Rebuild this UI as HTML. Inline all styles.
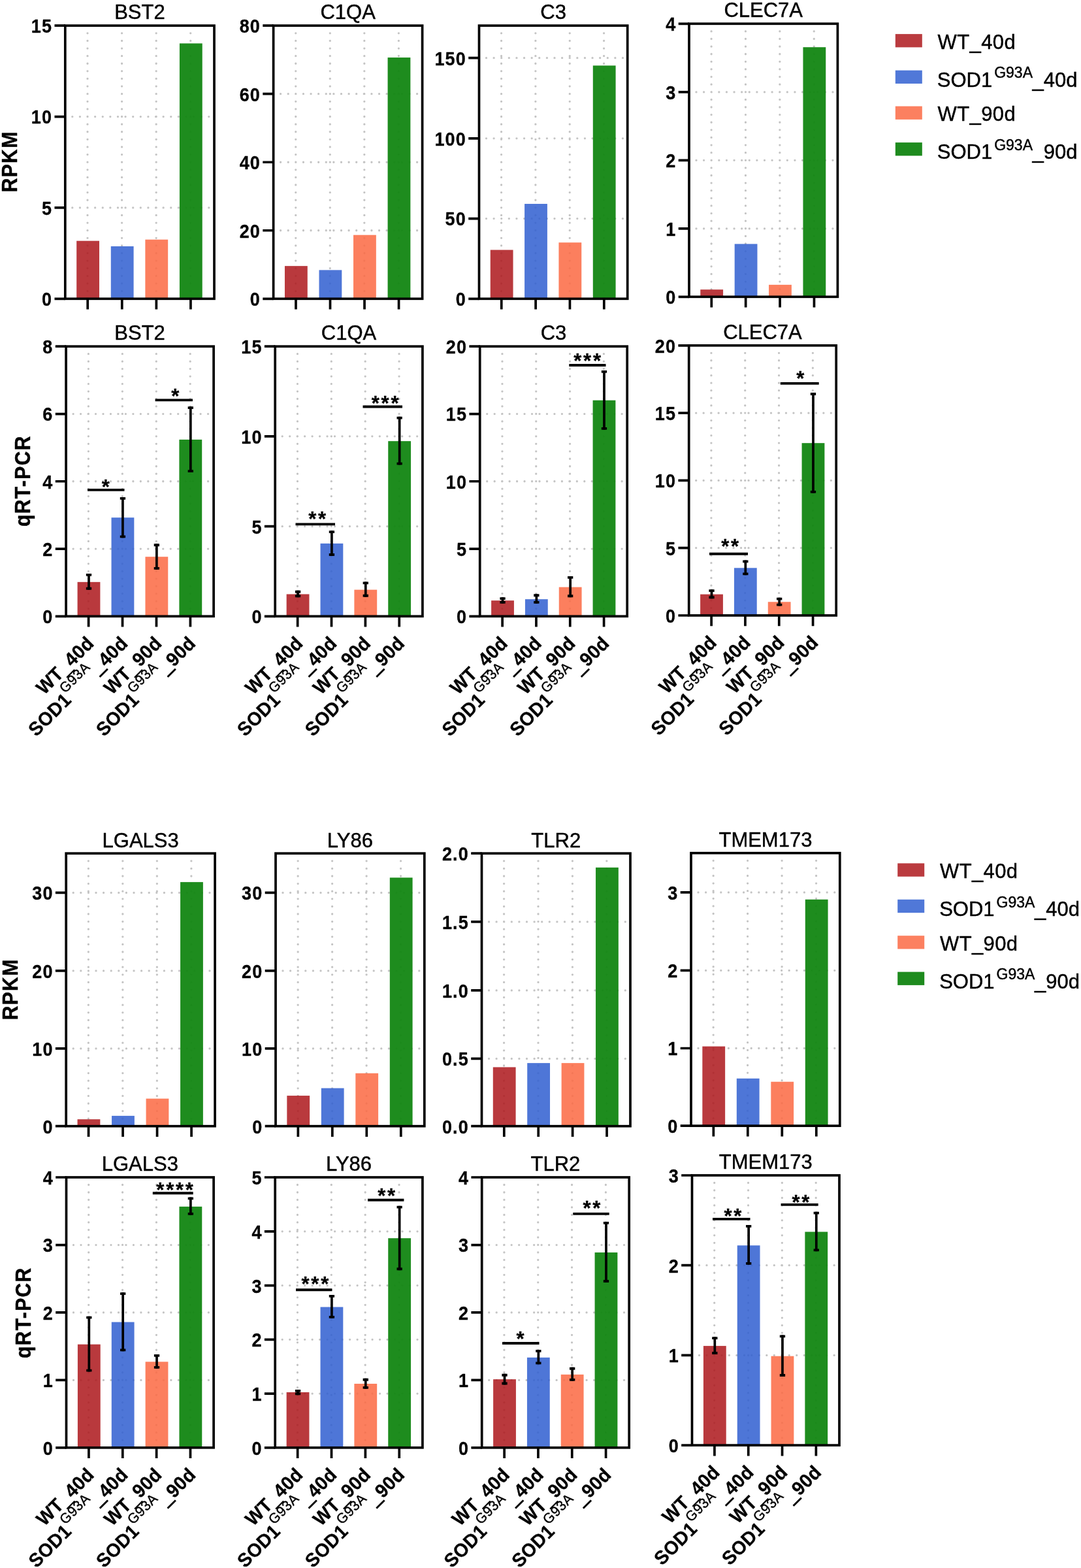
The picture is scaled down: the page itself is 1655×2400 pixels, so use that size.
<!DOCTYPE html>
<html lang="en"><head><meta charset="utf-8"><title>RPKM and qRT-PCR expression bar charts</title>
<style>
html,body{margin:0;padding:0;background:#fff}
body{width:1655px;height:2400px;overflow:hidden}
svg{display:block;font-family:"Liberation Sans",Arial,Helvetica,sans-serif}
text{fill:#000;stroke:#000;stroke-width:0.45px;stroke-linejoin:round}
.gd{fill:none;stroke:#c4c4c4;stroke-width:3.3;stroke-linecap:round}
.tk{font-weight:bold;font-size:27px;text-anchor:end;letter-spacing:1.1px;stroke-width:0.3px}
.tt{font-size:31px;text-anchor:middle}
.st{font-weight:bold;font-size:31px;text-anchor:middle;letter-spacing:2.8px;stroke-width:0.3px}
.xl{font-weight:bold;font-size:28.2px;text-anchor:end;stroke-width:0.3px;letter-spacing:0.4px}
.sp{font-weight:normal;font-size:20.8px;letter-spacing:0.6px;stroke-width:0.4px}
.us{font-weight:normal;stroke:#000;stroke-width:1px}
.ub{stroke:#000;stroke-width:1px}
.lu{stroke:#000;stroke-width:1.2px}
.lg{font-size:31px}
.lsp{font-size:23px}
.lw{letter-spacing:0.4px}
.yl{font-weight:bold;font-size:30px;text-anchor:middle;letter-spacing:1.4px}
</style></head>
<body>
<svg role="img" aria-label="Bar charts of RPKM and qRT-PCR expression for BST2, C1QA, C3, CLEC7A, LGALS3, LY86, TLR2 and TMEM173" width="1655" height="2400" viewBox="0 0 1655 2400">
<rect width="1655" height="2400" fill="#fff"/>
<g>
<path class="gd" stroke-dasharray="0 11.61" d="M134 50.81V445.99M186.58 50.81V445.99M239.16 50.81V445.99M291.73 50.81V445.99M110.8 317.93H320.15M110.8 178.57H320.15"/>
<rect x="117.2" y="368.69" width="34.8" height="88.61" fill="#AE181D" fill-opacity="0.86"/>
<rect x="169.78" y="377" width="34.8" height="80.3" fill="#3160D1" fill-opacity="0.86"/>
<rect x="222.36" y="366.69" width="34.8" height="90.61" fill="#FB6A44" fill-opacity="0.86"/>
<rect x="274.93" y="66.43" width="34.8" height="390.87" fill="#128612" fill-opacity="0.95"/>
<rect x="99.8" y="39.2" width="228.2" height="418.1" fill="none" stroke="#000" stroke-width="3.7"/>
<path d="M83.5 457.3H99.8M83.5 317.93H99.8M83.5 178.57H99.8M83.5 39.2H99.8M134.2 457.3V473.6M186.78 457.3V473.6M239.36 457.3V473.6M291.93 457.3V473.6" stroke="#000" stroke-width="3.7" fill="none"/>
<text class="tk" transform="translate(80.1 468.2) scale(1 1.09)">0</text>
<text class="tk" transform="translate(80.1 328.83) scale(1 1.09)">5</text>
<text class="tk" transform="translate(80.1 189.47) scale(1 1.09)">10</text>
<text class="tk" transform="translate(80.1 50.1) scale(1 1.09)">15</text>
<text class="tt" transform="translate(213.9 29.3) scale(1 1.04)">BST2</text>
</g>
<g>
<path class="gd" stroke-dasharray="0 11.61" d="M452.77 50.81V445.99M505.3 50.81V445.99M557.83 50.81V445.99M610.36 50.81V445.99M429.6 352.77H638.95M429.6 248.25H638.95M429.6 143.72H638.95"/>
<rect x="435.97" y="407.14" width="34.8" height="50.16" fill="#AE181D" fill-opacity="0.86"/>
<rect x="488.5" y="413.35" width="34.8" height="43.95" fill="#3160D1" fill-opacity="0.86"/>
<rect x="541.03" y="359.68" width="34.8" height="97.62" fill="#FB6A44" fill-opacity="0.86"/>
<rect x="593.56" y="88.06" width="34.8" height="369.24" fill="#128612" fill-opacity="0.95"/>
<rect x="418.6" y="39.2" width="228" height="418.1" fill="none" stroke="#000" stroke-width="3.7"/>
<path d="M402.3 457.3H418.6M402.3 352.77H418.6M402.3 248.25H418.6M402.3 143.72H418.6M402.3 39.2H418.6M452.97 457.3V473.6M505.5 457.3V473.6M558.03 457.3V473.6M610.56 457.3V473.6" stroke="#000" stroke-width="3.7" fill="none"/>
<text class="tk" transform="translate(398.9 468.2) scale(1 1.09)">0</text>
<text class="tk" transform="translate(398.9 363.67) scale(1 1.09)">20</text>
<text class="tk" transform="translate(398.9 259.15) scale(1 1.09)">40</text>
<text class="tk" transform="translate(398.9 154.62) scale(1 1.09)">60</text>
<text class="tk" transform="translate(398.9 50.1) scale(1 1.09)">80</text>
<text class="tt" transform="translate(532.6 29.3) scale(1 1.04)">C1QA</text>
</g>
<g>
<path class="gd" stroke-dasharray="0 11.61" d="M767.55 50.81V445.99M819.89 50.81V445.99M872.24 50.81V445.99M924.59 50.81V445.99M744.5 334.55H953.85M744.5 211.81H953.85M744.5 88.66H953.85"/>
<rect x="750.75" y="382.51" width="34.8" height="74.79" fill="#AE181D" fill-opacity="0.86"/>
<rect x="803.09" y="312.03" width="34.8" height="145.27" fill="#3160D1" fill-opacity="0.86"/>
<rect x="855.44" y="371.2" width="34.8" height="86.1" fill="#FB6A44" fill-opacity="0.86"/>
<rect x="907.79" y="100.37" width="34.8" height="356.93" fill="#128612" fill-opacity="0.95"/>
<rect x="733.5" y="39.2" width="227.2" height="418.1" fill="none" stroke="#000" stroke-width="3.7"/>
<path d="M717.2 457.3H733.5M717.2 334.55H733.5M717.2 211.81H733.5M717.2 88.66H733.5M767.75 457.3V473.6M820.09 457.3V473.6M872.44 457.3V473.6M924.79 457.3V473.6" stroke="#000" stroke-width="3.7" fill="none"/>
<text class="tk" transform="translate(713.8 468.2) scale(1 1.09)">0</text>
<text class="tk" transform="translate(713.8 345.45) scale(1 1.09)">50</text>
<text class="tk" transform="translate(713.8 222.71) scale(1 1.09)">100</text>
<text class="tk" transform="translate(713.8 99.56) scale(1 1.09)">150</text>
<text class="tt" transform="translate(847.1 29.3) scale(1 1.04)">C3</text>
</g>
<g>
<path class="gd" stroke-dasharray="0 11.61" d="M1089.08 47.91V442.99M1141.47 47.91V442.99M1193.86 47.91V442.99M1246.26 47.91V442.99M1066 349.88H1275.3M1066 245.35H1275.3M1066 140.93H1275.3"/>
<rect x="1072.28" y="443.19" width="34.8" height="11.11" fill="#AE181D" fill-opacity="0.86"/>
<rect x="1124.67" y="373.4" width="34.8" height="80.9" fill="#3160D1" fill-opacity="0.86"/>
<rect x="1177.06" y="435.88" width="34.8" height="18.42" fill="#FB6A44" fill-opacity="0.86"/>
<rect x="1229.46" y="72.24" width="34.8" height="382.06" fill="#128612" fill-opacity="0.95"/>
<rect x="1055" y="36.3" width="227.4" height="418" fill="none" stroke="#000" stroke-width="3.7"/>
<path d="M1038.7 454.3H1055M1038.7 349.88H1055M1038.7 245.35H1055M1038.7 140.93H1055M1038.7 36.3H1055M1089.28 454.3V470.6M1141.67 454.3V470.6M1194.06 454.3V470.6M1246.46 454.3V470.6" stroke="#000" stroke-width="3.7" fill="none"/>
<text class="tk" transform="translate(1035.3 465.2) scale(1 1.09)">0</text>
<text class="tk" transform="translate(1035.3 360.78) scale(1 1.09)">1</text>
<text class="tk" transform="translate(1035.3 256.25) scale(1 1.09)">2</text>
<text class="tk" transform="translate(1035.3 151.83) scale(1 1.09)">3</text>
<text class="tk" transform="translate(1035.3 47.2) scale(1 1.09)">4</text>
<text class="tt" transform="translate(1168.7 25.8) scale(1 1.04)">CLEC7A</text>
</g>
<g>
<path class="gd" stroke-dasharray="0 11.47" d="M135.39 541.68V932.12M187.33 541.68V932.12M239.26 541.68V932.12M291.2 541.68V932.12M112.1 840.08H318.95M112.1 736.75H318.95M112.1 633.53H318.95"/>
<rect x="118.59" y="890.84" width="34.8" height="52.46" fill="#AE181D" fill-opacity="0.86"/>
<rect x="170.53" y="792.22" width="34.8" height="151.08" fill="#3160D1" fill-opacity="0.86"/>
<rect x="222.46" y="852.19" width="34.8" height="91.11" fill="#FB6A44" fill-opacity="0.86"/>
<rect x="274.4" y="672.87" width="34.8" height="270.43" fill="#128612" fill-opacity="0.95"/>
<path d="M135.99 878.02V902.65M187.93 760.88V823.35M239.86 832.37V871.71M291.8 622.21V722.93" stroke="#000" stroke-width="3.7" fill="none"/>
<path d="M131.84 879.92H140.14M131.84 900.75H140.14M183.78 762.78H192.08M183.78 821.45H192.08M235.71 834.27H244.01M235.71 869.81H244.01M287.65 624.11H295.95M287.65 721.03H295.95" stroke="#000" stroke-width="3.8" fill="none"/>
<rect x="101.1" y="530.2" width="226" height="413.1" fill="none" stroke="#000" stroke-width="3.7"/>
<path d="M84.8 943.3H101.1M84.8 840.08H101.1M84.8 736.75H101.1M84.8 633.53H101.1M84.8 530.2H101.1M135.59 943.3V959.6M187.53 943.3V959.6M239.46 943.3V959.6M291.4 943.3V959.6" stroke="#000" stroke-width="3.7" fill="none"/>
<text class="tk" transform="translate(81.4 954.2) scale(1 1.09)">0</text>
<text class="tk" transform="translate(81.4 850.98) scale(1 1.09)">2</text>
<text class="tk" transform="translate(81.4 747.65) scale(1 1.09)">4</text>
<text class="tk" transform="translate(81.4 644.43) scale(1 1.09)">6</text>
<text class="tk" transform="translate(81.4 541.1) scale(1 1.09)">8</text>
<text class="tt" transform="translate(214.1 520.1) scale(1 1.04)">BST2</text>
<path d="M134 749.87H190.5" stroke="#000" stroke-width="3.9"/>
<text class="st" transform="translate(163.3 756.27) scale(1 1.04)">*</text>
<path d="M237.6 612.4H295" stroke="#000" stroke-width="3.9"/>
<text class="st" transform="translate(269.8 617.4) scale(1 1.04)">*</text>
<text class="xl" transform="translate(145.49 986.5) rotate(-45) scale(1 1.04)">WT<tspan class="ub" dy="2">_</tspan><tspan dy="-2">40d</tspan></text>
<text class="xl" transform="translate(197.43 986.5) rotate(-45) scale(1 1.04)">SOD1<tspan class="sp" dx="0.3" dy="-15.2">G93A</tspan><tspan class="us" dx="0.8" dy="13.8">_</tspan><tspan dy="1.4">40d</tspan></text>
<text class="xl" transform="translate(249.36 986.5) rotate(-45) scale(1 1.04)">WT<tspan class="ub" dy="2">_</tspan><tspan dy="-2">90d</tspan></text>
<text class="xl" transform="translate(301.3 986.5) rotate(-45) scale(1 1.04)">SOD1<tspan class="sp" dx="0.3" dy="-15.2">G93A</tspan><tspan class="us" dx="0.8" dy="13.8">_</tspan><tspan dy="1.4">90d</tspan></text>
</g>
<g>
<path class="gd" stroke-dasharray="0 11.47" d="M455.45 541.68V932.12M507.31 541.68V932.12M559.18 541.68V932.12M611.05 541.68V932.12M432.2 805.63H639.05M432.2 667.87H639.05"/>
<rect x="438.65" y="909.46" width="34.8" height="33.84" fill="#AE181D" fill-opacity="0.86"/>
<rect x="490.51" y="831.87" width="34.8" height="111.43" fill="#3160D1" fill-opacity="0.86"/>
<rect x="542.38" y="902.65" width="34.8" height="40.65" fill="#FB6A44" fill-opacity="0.86"/>
<rect x="594.25" y="675.18" width="34.8" height="268.12" fill="#128612" fill-opacity="0.95"/>
<path d="M456.05 903.85V914.16M507.91 812.24V850.89M559.78 890.54V913.66M611.65 637.73V711.52" stroke="#000" stroke-width="3.7" fill="none"/>
<path d="M451.9 905.75H460.2M451.9 912.26H460.2M503.76 814.14H512.06M503.76 848.99H512.06M555.63 892.44H563.93M555.63 911.76H563.93M607.5 639.63H615.8M607.5 709.62H615.8" stroke="#000" stroke-width="3.8" fill="none"/>
<rect x="421.2" y="530.2" width="225.7" height="413.1" fill="none" stroke="#000" stroke-width="3.7"/>
<path d="M404.9 943.3H421.2M404.9 805.63H421.2M404.9 667.87H421.2M404.9 530.2H421.2M455.65 943.3V959.6M507.51 943.3V959.6M559.38 943.3V959.6M611.25 943.3V959.6" stroke="#000" stroke-width="3.7" fill="none"/>
<text class="tk" transform="translate(401.5 954.2) scale(1 1.09)">0</text>
<text class="tk" transform="translate(401.5 816.53) scale(1 1.09)">5</text>
<text class="tk" transform="translate(401.5 678.77) scale(1 1.09)">10</text>
<text class="tk" transform="translate(401.5 541.1) scale(1 1.09)">15</text>
<text class="tt" transform="translate(534.05 520.1) scale(1 1.04)">C1QA</text>
<path d="M452.5 802.33H513" stroke="#000" stroke-width="3.9"/>
<text class="st" transform="translate(487 804.93) scale(1 1.04)">**</text>
<path d="M555.5 622.51H616" stroke="#000" stroke-width="3.9"/>
<text class="st" transform="translate(591 628.41) scale(1 1.04)">***</text>
<text class="xl" transform="translate(465.55 986.5) rotate(-45) scale(1 1.04)">WT<tspan class="ub" dy="2">_</tspan><tspan dy="-2">40d</tspan></text>
<text class="xl" transform="translate(517.41 986.5) rotate(-45) scale(1 1.04)">SOD1<tspan class="sp" dx="0.3" dy="-15.2">G93A</tspan><tspan class="us" dx="0.8" dy="13.8">_</tspan><tspan dy="1.4">40d</tspan></text>
<text class="xl" transform="translate(569.28 986.5) rotate(-45) scale(1 1.04)">WT<tspan class="ub" dy="2">_</tspan><tspan dy="-2">90d</tspan></text>
<text class="xl" transform="translate(621.15 986.5) rotate(-45) scale(1 1.04)">SOD1<tspan class="sp" dx="0.3" dy="-15.2">G93A</tspan><tspan class="us" dx="0.8" dy="13.8">_</tspan><tspan dy="1.4">90d</tspan></text>
</g>
<g>
<path class="gd" stroke-dasharray="0 11.47" d="M768.92 541.68V932.12M820.74 541.68V932.12M872.56 541.68V932.12M924.38 541.68V932.12M745.7 840.08H952.55M745.7 736.75H952.55M745.7 633.53H952.55"/>
<rect x="752.12" y="919.17" width="34.8" height="24.13" fill="#AE181D" fill-opacity="0.86"/>
<rect x="803.94" y="917.17" width="34.8" height="26.13" fill="#3160D1" fill-opacity="0.86"/>
<rect x="855.76" y="898.65" width="34.8" height="44.65" fill="#FB6A44" fill-opacity="0.86"/>
<rect x="907.58" y="612.7" width="34.8" height="330.6" fill="#128612" fill-opacity="0.95"/>
<path d="M769.52 914.17V923.68M821.34 909.36V923.68M873.16 882.03V914.16M924.98 566.95V657.85" stroke="#000" stroke-width="3.7" fill="none"/>
<path d="M765.37 916.07H773.67M765.37 921.78H773.67M817.19 911.26H825.49M817.19 921.78H825.49M869.01 883.93H877.31M869.01 912.26H877.31M920.83 568.85H929.13M920.83 655.95H929.13" stroke="#000" stroke-width="3.8" fill="none"/>
<rect x="734.7" y="530.2" width="225.5" height="413.1" fill="none" stroke="#000" stroke-width="3.7"/>
<path d="M718.4 943.3H734.7M718.4 840.08H734.7M718.4 736.75H734.7M718.4 633.53H734.7M718.4 530.2H734.7M769.12 943.3V959.6M820.94 943.3V959.6M872.76 943.3V959.6M924.58 943.3V959.6" stroke="#000" stroke-width="3.7" fill="none"/>
<text class="tk" transform="translate(715 954.2) scale(1 1.09)">0</text>
<text class="tk" transform="translate(715 850.98) scale(1 1.09)">5</text>
<text class="tk" transform="translate(715 747.65) scale(1 1.09)">10</text>
<text class="tk" transform="translate(715 644.43) scale(1 1.09)">15</text>
<text class="tk" transform="translate(715 541.1) scale(1 1.09)">20</text>
<text class="tt" transform="translate(847.45 520.1) scale(1 1.04)">C3</text>
<path d="M871.3 559.03H927.5" stroke="#000" stroke-width="3.9"/>
<text class="st" transform="translate(900.5 563.23) scale(1 1.04)">***</text>
<text class="xl" transform="translate(779.02 986.5) rotate(-45) scale(1 1.04)">WT<tspan class="ub" dy="2">_</tspan><tspan dy="-2">40d</tspan></text>
<text class="xl" transform="translate(830.84 986.5) rotate(-45) scale(1 1.04)">SOD1<tspan class="sp" dx="0.3" dy="-15.2">G93A</tspan><tspan class="us" dx="0.8" dy="13.8">_</tspan><tspan dy="1.4">40d</tspan></text>
<text class="xl" transform="translate(882.66 986.5) rotate(-45) scale(1 1.04)">WT<tspan class="ub" dy="2">_</tspan><tspan dy="-2">90d</tspan></text>
<text class="xl" transform="translate(934.48 986.5) rotate(-45) scale(1 1.04)">SOD1<tspan class="sp" dx="0.3" dy="-15.2">G93A</tspan><tspan class="us" dx="0.8" dy="13.8">_</tspan><tspan dy="1.4">90d</tspan></text>
</g>
<g>
<path class="gd" stroke-dasharray="0 11.48" d="M1088.92 540.28V930.82M1140.74 540.28V930.82M1192.56 540.28V930.82M1244.38 540.28V930.82M1065.7 838.67H1272.6M1065.7 735.45H1272.6M1065.7 632.13H1272.6"/>
<rect x="1072.12" y="909.66" width="34.8" height="32.34" fill="#AE181D" fill-opacity="0.86"/>
<rect x="1123.94" y="869.31" width="34.8" height="72.69" fill="#3160D1" fill-opacity="0.86"/>
<rect x="1175.76" y="921.27" width="34.8" height="20.73" fill="#FB6A44" fill-opacity="0.86"/>
<rect x="1227.58" y="678.18" width="34.8" height="263.82" fill="#128612" fill-opacity="0.95"/>
<path d="M1089.52 902.15V916.17M1141.34 857.4V880.22M1193.16 914.67V927.48M1244.98 601.09V754.77" stroke="#000" stroke-width="3.7" fill="none"/>
<path d="M1085.37 904.05H1093.67M1085.37 914.27H1093.67M1137.19 859.3H1145.49M1137.19 878.32H1145.49M1189.01 916.57H1197.31M1189.01 925.58H1197.31M1240.83 602.99H1249.13M1240.83 752.87H1249.13" stroke="#000" stroke-width="3.8" fill="none"/>
<rect x="1054.7" y="528.8" width="225.5" height="413.2" fill="none" stroke="#000" stroke-width="3.7"/>
<path d="M1038.4 942H1054.7M1038.4 838.67H1054.7M1038.4 735.45H1054.7M1038.4 632.13H1054.7M1038.4 528.8H1054.7M1089.12 942V958.3M1140.94 942V958.3M1192.76 942V958.3M1244.58 942V958.3" stroke="#000" stroke-width="3.7" fill="none"/>
<text class="tk" transform="translate(1035 952.9) scale(1 1.09)">0</text>
<text class="tk" transform="translate(1035 849.57) scale(1 1.09)">5</text>
<text class="tk" transform="translate(1035 746.35) scale(1 1.09)">10</text>
<text class="tk" transform="translate(1035 643.03) scale(1 1.09)">15</text>
<text class="tk" transform="translate(1035 539.7) scale(1 1.09)">20</text>
<text class="tt" transform="translate(1167.45 518.8) scale(1 1.04)">CLEC7A</text>
<path d="M1086 847.69H1145" stroke="#000" stroke-width="3.9"/>
<text class="st" transform="translate(1119 847.09) scale(1 1.04)">**</text>
<path d="M1194.8 586.87H1253.7" stroke="#000" stroke-width="3.9"/>
<text class="st" transform="translate(1226.8 590.37) scale(1 1.04)">*</text>
<text class="xl" transform="translate(1099.02 985.2) rotate(-45) scale(1 1.04)">WT<tspan class="ub" dy="2">_</tspan><tspan dy="-2">40d</tspan></text>
<text class="xl" transform="translate(1150.84 985.2) rotate(-45) scale(1 1.04)">SOD1<tspan class="sp" dx="0.3" dy="-15.2">G93A</tspan><tspan class="us" dx="0.8" dy="13.8">_</tspan><tspan dy="1.4">40d</tspan></text>
<text class="xl" transform="translate(1202.66 985.2) rotate(-45) scale(1 1.04)">WT<tspan class="ub" dy="2">_</tspan><tspan dy="-2">90d</tspan></text>
<text class="xl" transform="translate(1254.48 985.2) rotate(-45) scale(1 1.04)">SOD1<tspan class="sp" dx="0.3" dy="-15.2">G93A</tspan><tspan class="us" dx="0.8" dy="13.8">_</tspan><tspan dy="1.4">90d</tspan></text>
</g>
<g>
<path class="gd" stroke-dasharray="0 11.6" d="M135.35 1317.8V1712.4M187.86 1317.8V1712.4M240.37 1317.8V1712.4M292.88 1317.8V1712.4M112.2 1604.91H321.25M112.2 1485.93H321.25M112.2 1366.44H321.25"/>
<rect x="118.55" y="1713.19" width="34.8" height="10.51" fill="#AE181D" fill-opacity="0.86"/>
<rect x="171.06" y="1707.89" width="34.8" height="15.81" fill="#3160D1" fill-opacity="0.86"/>
<rect x="223.57" y="1681.57" width="34.8" height="42.13" fill="#FB6A44" fill-opacity="0.86"/>
<rect x="276.08" y="1350.13" width="34.8" height="373.57" fill="#128612" fill-opacity="0.95"/>
<rect x="101.2" y="1306.2" width="227.9" height="417.5" fill="none" stroke="#000" stroke-width="3.7"/>
<path d="M84.9 1723.7H101.2M84.9 1604.91H101.2M84.9 1485.93H101.2M84.9 1366.44H101.2M135.55 1723.7V1740M188.06 1723.7V1740M240.57 1723.7V1740M293.08 1723.7V1740" stroke="#000" stroke-width="3.7" fill="none"/>
<text class="tk" transform="translate(81.5 1734.6) scale(1 1.09)">0</text>
<text class="tk" transform="translate(81.5 1615.81) scale(1 1.09)">10</text>
<text class="tk" transform="translate(81.5 1496.83) scale(1 1.09)">20</text>
<text class="tk" transform="translate(81.5 1377.34) scale(1 1.09)">30</text>
<text class="tt" transform="translate(215.15 1296.5) scale(1 1.04)">LGALS3</text>
</g>
<g>
<path class="gd" stroke-dasharray="0 11.6" d="M456.14 1317.8V1712.4M508.62 1317.8V1712.4M561.11 1317.8V1712.4M613.59 1317.8V1712.4M433 1604.91H642.05M433 1485.93H642.05M433 1366.44H642.05"/>
<rect x="439.34" y="1677.07" width="34.8" height="46.63" fill="#AE181D" fill-opacity="0.86"/>
<rect x="491.82" y="1665.56" width="34.8" height="58.14" fill="#3160D1" fill-opacity="0.86"/>
<rect x="544.31" y="1642.74" width="34.8" height="80.96" fill="#FB6A44" fill-opacity="0.86"/>
<rect x="596.79" y="1343.33" width="34.8" height="380.37" fill="#128612" fill-opacity="0.95"/>
<rect x="422" y="1306.2" width="227.8" height="417.5" fill="none" stroke="#000" stroke-width="3.7"/>
<path d="M405.7 1723.7H422M405.7 1604.91H422M405.7 1485.93H422M405.7 1366.44H422M456.34 1723.7V1740M508.82 1723.7V1740M561.31 1723.7V1740M613.79 1723.7V1740" stroke="#000" stroke-width="3.7" fill="none"/>
<text class="tk" transform="translate(402.3 1734.6) scale(1 1.09)">0</text>
<text class="tk" transform="translate(402.3 1615.81) scale(1 1.09)">10</text>
<text class="tk" transform="translate(402.3 1496.83) scale(1 1.09)">20</text>
<text class="tk" transform="translate(402.3 1377.34) scale(1 1.09)">30</text>
<text class="tt" transform="translate(535.9 1296.5) scale(1 1.04)">LY86</text>
</g>
<g>
<path class="gd" stroke-dasharray="0 11.6" d="M771.59 1317.8V1712.4M824.01 1317.8V1712.4M876.43 1317.8V1712.4M928.84 1317.8V1712.4M748.5 1620.43H957.55M748.5 1515.95H957.55M748.5 1410.88H957.55"/>
<rect x="754.79" y="1633.44" width="34.8" height="90.26" fill="#AE181D" fill-opacity="0.86"/>
<rect x="807.21" y="1627.13" width="34.8" height="96.57" fill="#3160D1" fill-opacity="0.86"/>
<rect x="859.63" y="1627.13" width="34.8" height="96.57" fill="#FB6A44" fill-opacity="0.86"/>
<rect x="912.04" y="1327.82" width="34.8" height="395.88" fill="#128612" fill-opacity="0.95"/>
<rect x="737.5" y="1306.2" width="227.5" height="417.5" fill="none" stroke="#000" stroke-width="3.7"/>
<path d="M721.2 1723.7H737.5M721.2 1620.43H737.5M721.2 1515.95H737.5M721.2 1410.88H737.5M721.2 1306.2H737.5M771.79 1723.7V1740M824.21 1723.7V1740M876.63 1723.7V1740M929.04 1723.7V1740" stroke="#000" stroke-width="3.7" fill="none"/>
<text class="tk" transform="translate(717.8 1734.6) scale(1 1.09)">0.0</text>
<text class="tk" transform="translate(717.8 1631.33) scale(1 1.09)">0.5</text>
<text class="tk" transform="translate(717.8 1526.85) scale(1 1.09)">1.0</text>
<text class="tk" transform="translate(717.8 1421.78) scale(1 1.09)">1.5</text>
<text class="tk" transform="translate(717.8 1317.1) scale(1 1.09)">2.0</text>
<text class="tt" transform="translate(851.25 1296.5) scale(1 1.04)">TLR2</text>
</g>
<g>
<path class="gd" stroke-dasharray="0 11.6" d="M1092.14 1317.3V1711.9M1144.62 1317.3V1711.9M1197.11 1317.3V1711.9M1249.59 1317.3V1711.9M1069 1604.51H1278.05M1069 1485.43H1278.05M1069 1365.94H1278.05"/>
<rect x="1075.34" y="1601.61" width="34.8" height="121.59" fill="#AE181D" fill-opacity="0.86"/>
<rect x="1127.82" y="1650.75" width="34.8" height="72.45" fill="#3160D1" fill-opacity="0.86"/>
<rect x="1180.31" y="1655.75" width="34.8" height="67.45" fill="#FB6A44" fill-opacity="0.86"/>
<rect x="1232.79" y="1376.75" width="34.8" height="346.45" fill="#128612" fill-opacity="0.95"/>
<rect x="1058" y="1305.7" width="227.8" height="417.5" fill="none" stroke="#000" stroke-width="3.7"/>
<path d="M1041.7 1723.2H1058M1041.7 1604.51H1058M1041.7 1485.43H1058M1041.7 1365.94H1058M1092.34 1723.2V1739.5M1144.82 1723.2V1739.5M1197.31 1723.2V1739.5M1249.79 1723.2V1739.5" stroke="#000" stroke-width="3.7" fill="none"/>
<text class="tk" transform="translate(1038.3 1734.1) scale(1 1.09)">0</text>
<text class="tk" transform="translate(1038.3 1615.41) scale(1 1.09)">1</text>
<text class="tk" transform="translate(1038.3 1496.33) scale(1 1.09)">2</text>
<text class="tk" transform="translate(1038.3 1376.84) scale(1 1.09)">3</text>
<text class="tt" transform="translate(1171.9 1296) scale(1 1.04)">TMEM173</text>
</g>
<g>
<path class="gd" stroke-dasharray="0 11.49" d="M135.73 1813.49V2204.61M187.58 1813.49V2204.61M239.42 1813.49V2204.61M291.26 1813.49V2204.61M112.5 2112.38H319.7M112.5 2008.95H319.7M112.5 1905.53H319.7"/>
<rect x="118.93" y="2057.71" width="34.8" height="158.09" fill="#AE181D" fill-opacity="0.86"/>
<rect x="170.78" y="2023.57" width="34.8" height="192.23" fill="#3160D1" fill-opacity="0.86"/>
<rect x="222.62" y="2084.34" width="34.8" height="131.46" fill="#FB6A44" fill-opacity="0.86"/>
<rect x="274.46" y="1846.85" width="34.8" height="368.95" fill="#128612" fill-opacity="0.95"/>
<path d="M136.33 2014.76V2099.56M188.18 1978.21V2068.22M240.02 2073.03V2094.85M291.86 1832.44V1859.77" stroke="#000" stroke-width="3.7" fill="none"/>
<path d="M132.18 2016.66H140.48M132.18 2097.66H140.48M184.03 1980.11H192.33M184.03 2066.32H192.33M235.87 2074.93H244.17M235.87 2092.95H244.17M287.71 1834.34H296.01M287.71 1857.87H296.01" stroke="#000" stroke-width="3.8" fill="none"/>
<rect x="101.5" y="1802" width="225.6" height="413.8" fill="none" stroke="#000" stroke-width="3.7"/>
<path d="M85.2 2215.8H101.5M85.2 2112.38H101.5M85.2 2008.95H101.5M85.2 1905.53H101.5M85.2 1802H101.5M135.93 2215.8V2232.1M187.78 2215.8V2232.1M239.62 2215.8V2232.1M291.46 2215.8V2232.1" stroke="#000" stroke-width="3.7" fill="none"/>
<text class="tk" transform="translate(81.8 2226.7) scale(1 1.09)">0</text>
<text class="tk" transform="translate(81.8 2123.28) scale(1 1.09)">1</text>
<text class="tk" transform="translate(81.8 2019.85) scale(1 1.09)">2</text>
<text class="tk" transform="translate(81.8 1916.43) scale(1 1.09)">3</text>
<text class="tk" transform="translate(81.8 1812.9) scale(1 1.09)">4</text>
<text class="tt" transform="translate(214.3 1792.1) scale(1 1.04)">LGALS3</text>
<path d="M233.8 1826.23H295.7" stroke="#000" stroke-width="3.9"/>
<text class="st" transform="translate(269 1831.73) scale(1 1.04)">****</text>
<text class="xl" transform="translate(145.83 2259) rotate(-45) scale(1 1.04)">WT<tspan class="ub" dy="2">_</tspan><tspan dy="-2">40d</tspan></text>
<text class="xl" transform="translate(197.68 2259) rotate(-45) scale(1 1.04)">SOD1<tspan class="sp" dx="0.3" dy="-15.2">G93A</tspan><tspan class="us" dx="0.8" dy="13.8">_</tspan><tspan dy="1.4">40d</tspan></text>
<text class="xl" transform="translate(249.52 2259) rotate(-45) scale(1 1.04)">WT<tspan class="ub" dy="2">_</tspan><tspan dy="-2">90d</tspan></text>
<text class="xl" transform="translate(301.36 2259) rotate(-45) scale(1 1.04)">SOD1<tspan class="sp" dx="0.3" dy="-15.2">G93A</tspan><tspan class="us" dx="0.8" dy="13.8">_</tspan><tspan dy="1.4">90d</tspan></text>
</g>
<g>
<path class="gd" stroke-dasharray="0 11.49" d="M455.45 1813.49V2204.61M507.31 1813.49V2204.61M559.18 1813.49V2204.61M611.05 1813.49V2204.61M432.2 2133.1H639.4M432.2 2050.3H639.4M432.2 1967.6H639.4M432.2 1884.8H639.4"/>
<rect x="438.65" y="2131" width="34.8" height="84.8" fill="#AE181D" fill-opacity="0.86"/>
<rect x="490.51" y="2000.54" width="34.8" height="215.26" fill="#3160D1" fill-opacity="0.86"/>
<rect x="542.38" y="2117.98" width="34.8" height="97.82" fill="#FB6A44" fill-opacity="0.86"/>
<rect x="594.25" y="1895.21" width="34.8" height="320.59" fill="#128612" fill-opacity="0.95"/>
<path d="M456.05 2126.89V2135.2M507.91 1982.02V2017.76M559.78 2109.87V2125.69M611.65 1845.75V1944.17" stroke="#000" stroke-width="3.7" fill="none"/>
<path d="M451.9 2128.79H460.2M451.9 2133.3H460.2M503.76 1983.92H512.06M503.76 2015.86H512.06M555.63 2111.77H563.93M555.63 2123.79H563.93M607.5 1847.65H615.8M607.5 1942.27H615.8" stroke="#000" stroke-width="3.8" fill="none"/>
<rect x="421.2" y="1802" width="225.7" height="413.8" fill="none" stroke="#000" stroke-width="3.7"/>
<path d="M404.9 2215.8H421.2M404.9 2133.1H421.2M404.9 2050.3H421.2M404.9 1967.6H421.2M404.9 1884.8H421.2M404.9 1802H421.2M455.65 2215.8V2232.1M507.51 2215.8V2232.1M559.38 2215.8V2232.1M611.25 2215.8V2232.1" stroke="#000" stroke-width="3.7" fill="none"/>
<text class="tk" transform="translate(401.5 2226.7) scale(1 1.09)">0</text>
<text class="tk" transform="translate(401.5 2144) scale(1 1.09)">1</text>
<text class="tk" transform="translate(401.5 2061.2) scale(1 1.09)">2</text>
<text class="tk" transform="translate(401.5 1978.5) scale(1 1.09)">3</text>
<text class="tk" transform="translate(401.5 1895.7) scale(1 1.09)">4</text>
<text class="tk" transform="translate(401.5 1812.9) scale(1 1.09)">5</text>
<text class="tt" transform="translate(534.05 1792.1) scale(1 1.04)">LY86</text>
<path d="M453 1974.31H508.4" stroke="#000" stroke-width="3.9"/>
<text class="st" transform="translate(483.7 1976.31) scale(1 1.04)">***</text>
<path d="M563 1836.74H618.4" stroke="#000" stroke-width="3.9"/>
<text class="st" transform="translate(593 1840.74) scale(1 1.04)">**</text>
<text class="xl" transform="translate(465.55 2259) rotate(-45) scale(1 1.04)">WT<tspan class="ub" dy="2">_</tspan><tspan dy="-2">40d</tspan></text>
<text class="xl" transform="translate(517.41 2259) rotate(-45) scale(1 1.04)">SOD1<tspan class="sp" dx="0.3" dy="-15.2">G93A</tspan><tspan class="us" dx="0.8" dy="13.8">_</tspan><tspan dy="1.4">40d</tspan></text>
<text class="xl" transform="translate(569.28 2259) rotate(-45) scale(1 1.04)">WT<tspan class="ub" dy="2">_</tspan><tspan dy="-2">90d</tspan></text>
<text class="xl" transform="translate(621.15 2259) rotate(-45) scale(1 1.04)">SOD1<tspan class="sp" dx="0.3" dy="-15.2">G93A</tspan><tspan class="us" dx="0.8" dy="13.8">_</tspan><tspan dy="1.4">90d</tspan></text>
</g>
<g>
<path class="gd" stroke-dasharray="0 11.49" d="M771.92 1813.49V2204.61M823.74 1813.49V2204.61M875.56 1813.49V2204.61M927.38 1813.49V2204.61M748.7 2112.38H955.9M748.7 2008.95H955.9M748.7 1905.53H955.9"/>
<rect x="755.12" y="2111.17" width="34.8" height="104.63" fill="#AE181D" fill-opacity="0.86"/>
<rect x="806.94" y="2077.83" width="34.8" height="137.97" fill="#3160D1" fill-opacity="0.86"/>
<rect x="858.76" y="2103.86" width="34.8" height="111.94" fill="#FB6A44" fill-opacity="0.86"/>
<rect x="910.58" y="1917.04" width="34.8" height="298.76" fill="#128612" fill-opacity="0.95"/>
<path d="M772.52 2102.87V2119.38M824.34 2066.02V2088.25M876.16 2092.85V2113.68M927.98 1869.88V1962.89" stroke="#000" stroke-width="3.7" fill="none"/>
<path d="M768.37 2104.77H776.67M768.37 2117.48H776.67M820.19 2067.92H828.49M820.19 2086.35H828.49M872.01 2094.75H880.31M872.01 2111.78H880.31M923.83 1871.78H932.13M923.83 1960.99H932.13" stroke="#000" stroke-width="3.8" fill="none"/>
<rect x="737.7" y="1802" width="225.5" height="413.8" fill="none" stroke="#000" stroke-width="3.7"/>
<path d="M721.4 2215.8H737.7M721.4 2112.38H737.7M721.4 2008.95H737.7M721.4 1905.53H737.7M721.4 1802H737.7M772.12 2215.8V2232.1M823.94 2215.8V2232.1M875.76 2215.8V2232.1M927.58 2215.8V2232.1" stroke="#000" stroke-width="3.7" fill="none"/>
<text class="tk" transform="translate(718 2226.7) scale(1 1.09)">0</text>
<text class="tk" transform="translate(718 2123.28) scale(1 1.09)">1</text>
<text class="tk" transform="translate(718 2019.85) scale(1 1.09)">2</text>
<text class="tk" transform="translate(718 1916.43) scale(1 1.09)">3</text>
<text class="tk" transform="translate(718 1812.9) scale(1 1.09)">4</text>
<text class="tt" transform="translate(850.45 1792.1) scale(1 1.04)">TLR2</text>
<path d="M769 2056.01H825.5" stroke="#000" stroke-width="3.9"/>
<text class="st" transform="translate(798 2059.71) scale(1 1.04)">*</text>
<path d="M877.3 1857.87H932.7" stroke="#000" stroke-width="3.9"/>
<text class="st" transform="translate(907.3 1860.37) scale(1 1.04)">**</text>
<text class="xl" transform="translate(782.02 2259) rotate(-45) scale(1 1.04)">WT<tspan class="ub" dy="2">_</tspan><tspan dy="-2">40d</tspan></text>
<text class="xl" transform="translate(833.84 2259) rotate(-45) scale(1 1.04)">SOD1<tspan class="sp" dx="0.3" dy="-15.2">G93A</tspan><tspan class="us" dx="0.8" dy="13.8">_</tspan><tspan dy="1.4">40d</tspan></text>
<text class="xl" transform="translate(885.66 2259) rotate(-45) scale(1 1.04)">WT<tspan class="ub" dy="2">_</tspan><tspan dy="-2">90d</tspan></text>
<text class="xl" transform="translate(937.48 2259) rotate(-45) scale(1 1.04)">SOD1<tspan class="sp" dx="0.3" dy="-15.2">G93A</tspan><tspan class="us" dx="0.8" dy="13.8">_</tspan><tspan dy="1.4">90d</tspan></text>
</g>
<g>
<path class="gd" stroke-dasharray="0 11.48" d="M1093.72 1810.47V2200.93M1145.54 1810.47V2200.93M1197.36 1810.47V2200.93M1249.18 1810.47V2200.93M1070.5 2074.4H1277.35M1070.5 1936.7H1277.35"/>
<rect x="1076.92" y="2060.09" width="34.8" height="152.01" fill="#AE181D" fill-opacity="0.86"/>
<rect x="1128.74" y="1906.28" width="34.8" height="305.82" fill="#3160D1" fill-opacity="0.86"/>
<rect x="1180.56" y="2075.7" width="34.8" height="136.4" fill="#FB6A44" fill-opacity="0.86"/>
<rect x="1232.38" y="1885.46" width="34.8" height="326.64" fill="#128612" fill-opacity="0.95"/>
<path d="M1094.32 2046.28V2072.9M1146.14 1875.06V1935.8M1197.96 2043.48V2106.92M1249.78 1854.74V1915.18" stroke="#000" stroke-width="3.7" fill="none"/>
<path d="M1090.17 2048.18H1098.47M1090.17 2071H1098.47M1141.99 1876.96H1150.29M1141.99 1933.9H1150.29M1193.81 2045.38H1202.11M1193.81 2105.02H1202.11M1245.63 1856.64H1253.93M1245.63 1913.28H1253.93" stroke="#000" stroke-width="3.8" fill="none"/>
<rect x="1059.5" y="1799" width="225.5" height="413.1" fill="none" stroke="#000" stroke-width="3.7"/>
<path d="M1043.2 2212.1H1059.5M1043.2 2074.4H1059.5M1043.2 1936.7H1059.5M1043.2 1799H1059.5M1093.92 2212.1V2228.4M1145.74 2212.1V2228.4M1197.56 2212.1V2228.4M1249.38 2212.1V2228.4" stroke="#000" stroke-width="3.7" fill="none"/>
<text class="tk" transform="translate(1039.8 2223) scale(1 1.09)">0</text>
<text class="tk" transform="translate(1039.8 2085.3) scale(1 1.09)">1</text>
<text class="tk" transform="translate(1039.8 1947.6) scale(1 1.09)">2</text>
<text class="tk" transform="translate(1039.8 1809.9) scale(1 1.09)">3</text>
<text class="tt" transform="translate(1172.25 1788.9) scale(1 1.04)">TMEM173</text>
<path d="M1091 1865.85H1148.5" stroke="#000" stroke-width="3.9"/>
<text class="st" transform="translate(1123.3 1872.15) scale(1 1.04)">**</text>
<path d="M1195.6 1843.83H1252.7" stroke="#000" stroke-width="3.9"/>
<text class="st" transform="translate(1227.3 1850.53) scale(1 1.04)">**</text>
<text class="xl" transform="translate(1103.82 2255.3) rotate(-45) scale(1 1.04)">WT<tspan class="ub" dy="2">_</tspan><tspan dy="-2">40d</tspan></text>
<text class="xl" transform="translate(1155.64 2255.3) rotate(-45) scale(1 1.04)">SOD1<tspan class="sp" dx="0.3" dy="-15.2">G93A</tspan><tspan class="us" dx="0.8" dy="13.8">_</tspan><tspan dy="1.4">40d</tspan></text>
<text class="xl" transform="translate(1207.46 2255.3) rotate(-45) scale(1 1.04)">WT<tspan class="ub" dy="2">_</tspan><tspan dy="-2">90d</tspan></text>
<text class="xl" transform="translate(1259.28 2255.3) rotate(-45) scale(1 1.04)">SOD1<tspan class="sp" dx="0.3" dy="-15.2">G93A</tspan><tspan class="us" dx="0.8" dy="13.8">_</tspan><tspan dy="1.4">90d</tspan></text>
</g>
<g>
<rect x="1370.8" y="52.1" width="41" height="20.3" fill="#BA3B3F"/>
<text class="lg lw" transform="translate(1435.6 74.7) scale(1 1.04)">WT_40d</text>
<rect x="1370.8" y="107.7" width="41" height="20.3" fill="#5078D8"/>
<text class="lg" transform="translate(1434.8 132.9) scale(1 1.04)">SOD1<tspan class="lsp" x="87.4" dy="-12.9">G93A</tspan><tspan x="145.8" dy="12.9">_40d</tspan></text>
<rect x="1370.8" y="162.6" width="41" height="20.3" fill="#FC8060"/>
<text class="lg lw" transform="translate(1435.6 185.2) scale(1 1.04)">WT_90d</text>
<rect x="1370.8" y="218.1" width="41" height="20.3" fill="#1E8B1E"/>
<text class="lg" transform="translate(1434.8 243.3) scale(1 1.04)">SOD1<tspan class="lsp" x="87.4" dy="-12.9">G93A</tspan><tspan x="145.8" dy="12.9">_90d</tspan></text>
</g>
<g>
<rect x="1374.2" y="1321.4" width="41" height="20.3" fill="#BA3B3F"/>
<text class="lg lw" transform="translate(1439 1344) scale(1 1.04)">WT_40d</text>
<rect x="1374.2" y="1376.8" width="41" height="20.3" fill="#5078D8"/>
<text class="lg" transform="translate(1438.2 1402) scale(1 1.04)">SOD1<tspan class="lsp" x="87.4" dy="-12.9">G93A</tspan><tspan x="145.8" dy="12.9">_40d</tspan></text>
<rect x="1374.2" y="1432.2" width="41" height="20.3" fill="#FC8060"/>
<text class="lg lw" transform="translate(1439 1454.8) scale(1 1.04)">WT_90d</text>
<rect x="1374.2" y="1487.6" width="41" height="20.3" fill="#1E8B1E"/>
<text class="lg" transform="translate(1438.2 1512.8) scale(1 1.04)">SOD1<tspan class="lsp" x="87.4" dy="-12.9">G93A</tspan><tspan x="145.8" dy="12.9">_90d</tspan></text>
</g>
<text class="yl" transform="translate(25.5 247.4) rotate(-90) scale(1 1.11)">RPKM</text>
<text class="yl" transform="translate(46.2 736.1) rotate(-90) scale(1 1.11)">qRT-PCR</text>
<text class="yl" transform="translate(27.2 1514.4) rotate(-90) scale(1 1.11)">RPKM</text>
<text class="yl" transform="translate(46.6 2009.2) rotate(-90) scale(1 1.11)">qRT-PCR</text>
</svg>
</body></html>
